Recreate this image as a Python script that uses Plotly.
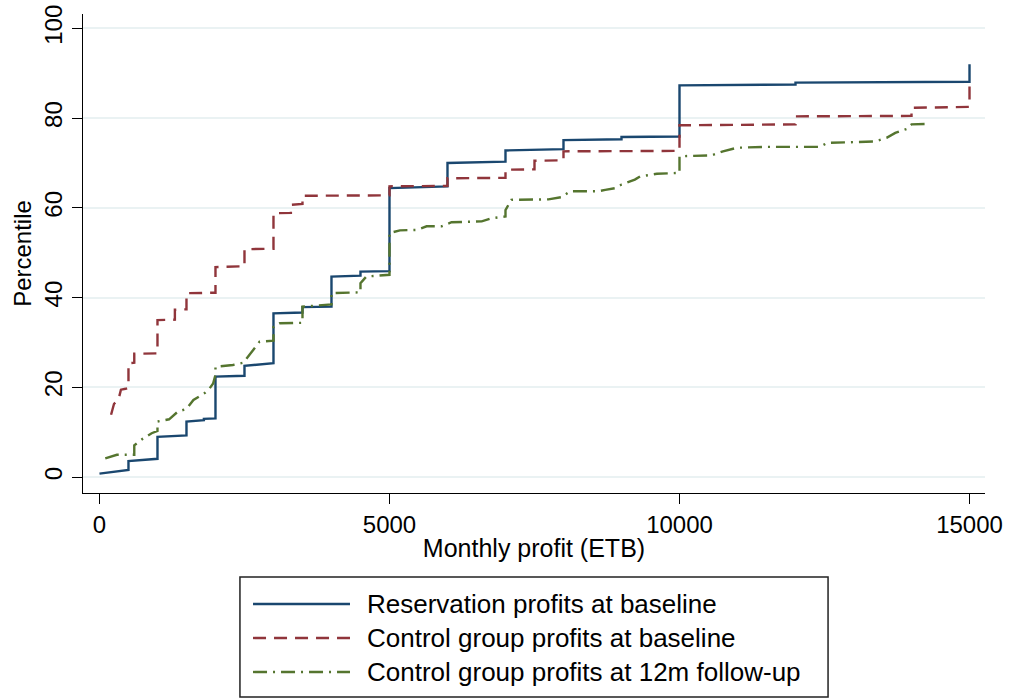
import plotly.graph_objects as go

# Cumulative distributions of monthly profit (ETB) -> percentile
res_profit = [0, 500, 500, 1000, 1000, 1500, 1500, 1800, 1800, 2000, 2000, 2500, 2500,
              3000, 3000, 3500, 3500, 4000, 4000, 4500, 4500, 5000, 5000, 6000, 6000,
              7000, 7000, 7500, 8000, 8000, 9000, 9000, 10000, 10000, 12000, 12000,
              15000, 15000]
res_pct = [0.8, 1.6, 3.6, 4.1, 9.0, 9.3, 12.4, 12.7, 13.0, 13.1, 22.4, 22.6, 24.8,
           25.4, 36.5, 36.7, 37.9, 38.0, 44.7, 44.9, 45.8, 45.9, 64.4, 64.8, 70.0,
           70.3, 72.8, 72.9, 73.1, 75.1, 75.3, 75.8, 75.9, 87.3, 87.5, 87.9,
           88.1, 92.0]

ctl_base_profit = [200, 250, 330, 370, 450, 500, 500, 600, 600, 1000, 1000, 1300, 1300,
                   1500, 1500, 2000, 2000, 2500, 2500, 3000, 3000, 3300, 3300, 3500,
                   3500, 5000, 5000, 6000, 6000, 7000, 7000, 7500, 7500, 8000, 8000,
                   10000, 10000, 12000, 12000, 14000, 14000, 15000, 15000]
ctl_base_pct = [13.9, 16.3, 17.4, 19.5, 19.7, 19.9, 25.4, 25.5, 27.5, 27.6, 35.0, 35.1,
                37.3, 37.4, 41.0, 41.1, 46.8, 47.0, 50.8, 50.9, 58.8, 58.9, 60.7, 60.9,
                62.7, 62.8, 64.8, 64.9, 66.6, 66.7, 68.5, 68.6, 70.5, 70.6, 72.6,
                72.7, 78.4, 78.6, 80.4, 80.5, 82.3, 82.5, 87.5]

ctl_12m_profit = [100, 300, 600, 600, 750, 900, 1000, 1000, 1200, 1350, 1500, 1620,
                  1820, 1900, 1960, 2000, 2000, 2300, 2480, 2540, 2600, 2760, 3000,
                  3000, 3110, 3500, 3500, 3900, 4000, 4000, 4200, 4500, 4500, 4600,
                  5000, 5000, 5180, 5470, 5640, 5900, 6070, 6590, 6760, 7000, 7000,
                  7100, 7740, 7970, 8110, 8600, 8720, 8890, 9000, 9230, 9320, 9610,
                  10000, 10000, 10550, 10750, 10990, 11500, 12420, 12550, 12880,
                  13370, 13570, 13720, 13920, 14000, 14260, 14300]
ctl_12m_pct = [4.2, 5.0, 5.0, 7.1, 8.6, 9.8, 10.3, 12.4, 12.9, 14.6, 15.2, 17.2,
               18.8, 19.8, 20.9, 22.8, 24.6, 25.0, 25.5, 26.5, 27.6, 30.2, 30.4,
               33.5, 34.3, 34.4, 38.0, 38.4, 38.5, 41.0, 41.1, 41.2, 43.2, 44.7,
               45.1, 54.4, 55.0, 55.1, 55.9, 55.9, 56.8, 57.0, 57.7, 58.1, 59.5,
               61.8, 61.9, 62.4, 63.7, 63.7, 64.0, 64.4, 65.2, 66.3, 67.0, 67.6,
               67.8, 71.5, 71.7, 72.6, 73.4, 73.6, 73.6, 74.5, 74.6,
               74.8, 75.6, 76.7, 77.6, 78.6, 78.7, 79.3]

series_names = ["Reservation profits at baseline",
                "Control group profits at baseline",
                "Control group profits at 12m follow-up"]
series_colors = ["#1a476f", "#90353b", "#55752f"]
series_dash = ["solid", "13px,8px", "14px,6px,2px,6px"]

x_ticks = [0, 5000, 10000, 15000]
x_tick_text = ["0", "5000", "10000", "15000"]
y_ticks = [0, 20, 40, 60, 80, 100]

FONT = "Liberation Sans, Arial, Helvetica, sans-serif"
LINE_W = 2.4

fig = go.Figure()
for xs, ys, name, col, dash in zip(
        [res_profit, ctl_base_profit, ctl_12m_profit],
        [res_pct, ctl_base_pct, ctl_12m_pct],
        series_names, series_colors, series_dash):
    fig.add_trace(go.Scatter(x=xs, y=ys, mode="lines", name=name, showlegend=False,
                             line=dict(color=col, width=LINE_W, dash=dash)))

# Boxed legend below the plot, with long line samples
fig.add_shape(type="rect", xref="paper", yref="paper",
              x0=0.174, x1=0.826, y0=-0.4259, y1=-0.1754,
              line=dict(color="#222222", width=1.5), fillcolor="white")
row_y = [-0.2317, -0.3027, -0.3737]
for yy, name, col, dash in zip(row_y, series_names, series_colors, series_dash):
    fig.add_shape(type="line", xref="paper", yref="paper",
                  x0=0.1885, x1=0.296, y0=yy, y1=yy,
                  line=dict(color=col, width=LINE_W, dash=dash))
    fig.add_annotation(xref="paper", yref="paper", x=0.313, y=yy, text=name,
                       showarrow=False, xanchor="left", yanchor="middle",
                       font=dict(family=FONT, size=26, color="black"))

fig.update_layout(
    width=1010, height=700,
    margin=dict(l=83, r=25, t=14, b=207),
    paper_bgcolor="white", plot_bgcolor="white",
    font=dict(family=FONT, color="black"),
    xaxis=dict(range=[-284, 15267], tickvals=x_ticks, ticktext=x_tick_text,
               ticks="outside", ticklen=10, tickwidth=1.3, tickcolor="black",
               showline=True, linecolor="black", linewidth=1.3, showgrid=False,
               zeroline=False, tickfont=dict(size=24), ticklabelstandoff=0,
               automargin=False,
               title=dict(text="Monthly profit (ETB)", font=dict(size=25), standoff=2)),
    yaxis=dict(range=[-3.52, 103.2], tickvals=y_ticks, ticks="outside", ticklen=10,
               tickwidth=1.3, tickcolor="black", showline=True, linecolor="black",
               linewidth=1.3, showgrid=True, gridcolor="#eaf2f3", gridwidth=1.6,
               zeroline=False, tickangle=-90, tickfont=dict(size=24),
               ticklabelstandoff=0, automargin=False,
               title=dict(text="Percentile", font=dict(size=24), standoff=1)),
)

fig.write_html("out.html")
